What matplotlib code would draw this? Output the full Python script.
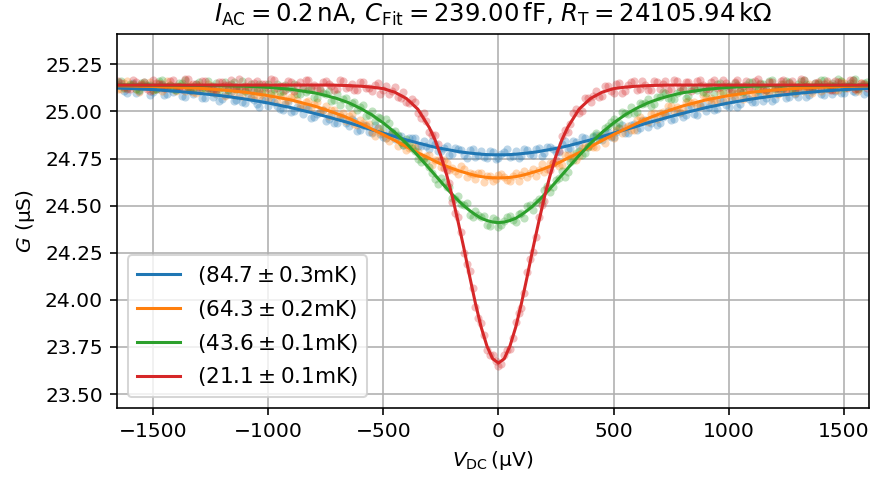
import numpy as np
import matplotlib
matplotlib.use("Agg")
import matplotlib.pyplot as plt

# ---- data ----
# two bias sweeps, interleaved in V_DC (µV)
sweep1_x = np.arange(-1650, 1601, 25)
sweep2_x = np.arange(-1637.5, 1600, 25)

blue_pts1 = [25.141, 25.108, 25.135, 25.097, 25.128, 25.142, 25.104, 25.121, 25.089, 25.126,
             25.113, 25.081, 25.118, 25.095, 25.110, 25.072, 25.101, 25.094, 25.066, 25.093,
             25.058, 25.084, 25.047, 25.072, 25.040, 25.063, 25.028, 25.052, 25.011, 25.040,
             24.998, 25.026, 24.985, 25.012, 24.968, 24.995, 24.951, 24.980, 24.939, 24.967,
             24.921, 24.947, 24.903, 24.925, 24.884, 24.910, 24.866, 24.893, 24.852, 24.871,
             24.830, 24.858, 24.815, 24.842, 24.801, 24.826, 24.788, 24.815, 24.774, 24.801,
             24.769, 24.794, 24.758, 24.789, 24.755, 24.784,
             24.752,
             24.787, 24.760, 24.792, 24.761, 24.797, 24.768, 24.804, 24.779, 24.812, 24.786,
             24.828, 24.799, 24.843, 24.814, 24.857, 24.831, 24.874, 24.848, 24.893, 24.864,
             24.911, 24.886, 24.929, 24.900, 24.948, 24.919, 24.966, 24.937, 24.984, 24.955,
             24.999, 24.971, 25.016, 24.987, 25.030, 25.001, 25.045, 25.014, 25.057, 25.026,
             25.068, 25.037, 25.079, 25.048, 25.088, 25.057, 25.097, 25.065, 25.104, 25.071,
             25.110, 25.079, 25.116, 25.085, 25.121, 25.090, 25.127, 25.094, 25.131, 25.098,
             25.136, 25.101, 25.139, 25.105]

blue_pts2 = [25.135, 25.097, 25.152, 25.111, 25.137, 25.086, 25.119, 25.140, 25.093, 25.105,
             25.127, 25.075, 25.109, 25.112, 25.073, 25.124, 25.076, 25.058, 25.087, 25.101,
             25.063, 25.049, 25.092, 25.059, 25.022, 25.061, 25.060, 25.030, 25.006, 25.049,
             25.001, 25.017, 25.022, 24.965, 24.989, 25.008, 24.959, 24.941, 24.969, 24.940,
             24.960, 24.898, 24.927, 24.891, 24.926, 24.882, 24.857, 24.891, 24.867, 24.823,
             24.858, 24.860, 24.815, 24.819, 24.845, 24.789, 24.808, 24.770, 24.806, 24.795,
             24.753, 24.803, 24.769, 24.759, 24.791, 24.748,
             24.772, 24.799, 24.762, 24.755, 24.801, 24.775, 24.798, 24.763, 24.813, 24.800,
             24.785, 24.843, 24.807, 24.836, 24.862, 24.816, 24.864, 24.854, 24.891, 24.863,
             24.892, 24.926, 24.883, 24.931, 24.914, 24.957, 24.941, 24.926, 24.970, 25.001,
             24.959, 24.992, 24.981, 25.028, 24.979, 25.033, 25.024, 25.009, 25.060, 25.033,
             25.059, 25.025, 25.077, 25.067, 25.052, 25.098, 25.070, 25.058, 25.098, 25.118,
             25.079, 25.090, 25.118, 25.075, 25.111, 25.121, 25.088, 25.138, 25.111, 25.100,
             25.139, 25.108, 25.124, 25.094]

orange_pts1 = [25.121, 25.152, 25.140, 25.118, 25.147, 25.129, 25.112, 25.150, 25.124, 25.138,
               25.109, 25.142, 25.131, 25.104, 25.139, 25.117, 25.125, 25.098, 25.130, 25.115,
               25.089, 25.121, 25.110, 25.081, 25.109, 25.094, 25.066, 25.097, 25.080, 25.049,
               25.077, 25.061, 25.026, 25.055, 25.038, 24.999, 25.027, 25.006, 24.968, 24.994,
               24.975, 24.931, 24.955, 24.930, 24.889, 24.911, 24.882, 24.843, 24.864, 24.836,
               24.795, 24.815, 24.787, 24.748, 24.769, 24.741, 24.703, 24.727, 24.702, 24.668,
               24.695, 24.671, 24.642, 24.671, 24.655, 24.630,
               24.664,
               24.651, 24.633, 24.672, 24.664, 24.650, 24.694, 24.690, 24.679, 24.727, 24.725,
               24.717, 24.770, 24.769, 24.763, 24.815, 24.817, 24.811, 24.864, 24.867, 24.858,
               24.910, 24.911, 24.903, 24.955, 24.953, 24.946, 24.994, 24.990, 24.980, 25.027,
               25.022, 25.011, 25.055, 25.049, 25.035, 25.079, 25.070, 25.055, 25.097, 25.089,
               25.071, 25.111, 25.101, 25.084, 25.123, 25.112, 25.094, 25.132, 25.119, 25.101,
               25.139, 25.126, 25.107, 25.145, 25.131, 25.111, 25.149, 25.134, 25.115, 25.151,
               25.137, 25.118, 25.153, 25.139]

orange_pts2 = [25.118, 25.161, 25.138, 25.105, 25.148, 25.154, 25.121, 25.107, 25.160, 25.124,
               25.137, 25.106, 25.142, 25.096, 25.123, 25.145, 25.103, 25.123, 25.081, 25.128,
               25.118, 25.081, 25.128, 25.086, 25.075, 25.109, 25.087, 25.050, 25.085, 25.061,
               25.088, 25.030, 25.051, 25.020, 25.048, 25.007, 24.975, 25.010, 24.983, 24.949,
               24.984, 24.928, 24.940, 24.934, 24.869, 24.889, 24.859, 24.883, 24.815, 24.834,
               24.804, 24.811, 24.756, 24.765, 24.718, 24.744, 24.741, 24.691, 24.685, 24.711,
               24.652, 24.668, 24.675, 24.623, 24.658, 24.639,
               24.668, 24.635, 24.658, 24.630, 24.683, 24.674, 24.659, 24.719, 24.694, 24.728,
               24.710, 24.768, 24.754, 24.743, 24.805, 24.813, 24.809, 24.869, 24.830, 24.870,
               24.904, 24.883, 24.924, 24.903, 24.970, 24.950, 24.984, 24.960, 24.995, 25.027,
               25.003, 24.996, 25.051, 25.046, 25.030, 25.086, 25.062, 25.055, 25.098, 25.056,
               25.098, 25.098, 25.065, 25.117, 25.097, 25.132, 25.096, 25.121, 25.095, 25.147,
               25.112, 25.099, 25.138, 25.129, 25.099, 25.149, 25.119, 25.141, 25.114, 25.160,
               25.130, 25.153, 25.110, 25.141]

green_pts1 = [25.158, 25.126, 25.147, 25.119, 25.152, 25.133, 25.114, 25.161, 25.129, 25.141,
              25.112, 25.150, 25.131, 25.121, 25.156, 25.127, 25.110, 25.149, 25.130, 25.116,
              25.158, 25.124, 25.109, 25.147, 25.125, 25.104, 25.146, 25.118, 25.101, 25.139,
              25.122, 25.090, 25.131, 25.112, 25.079, 25.114, 25.094, 25.055, 25.090, 25.066,
              25.027, 25.051, 25.026, 24.978, 25.004, 24.970, 24.917, 24.936, 24.897, 24.840,
              24.852, 24.806, 24.745, 24.754, 24.704, 24.641, 24.649, 24.598, 24.538, 24.550,
              24.505, 24.453, 24.473, 24.440, 24.399, 24.434,
              24.385,
              24.421, 24.443, 24.412, 24.460, 24.496, 24.478, 24.536, 24.581, 24.571, 24.635,
              24.684, 24.676, 24.740, 24.788, 24.778, 24.839, 24.883, 24.868, 24.923, 24.961,
              24.940, 24.990, 25.022, 24.996, 25.040, 25.068, 25.037, 25.076, 25.099, 25.064,
              25.100, 25.121, 25.083, 25.117, 25.135, 25.096, 25.128, 25.145, 25.105, 25.136,
              25.152, 25.110, 25.141, 25.156, 25.114, 25.144, 25.160, 25.117, 25.146, 25.163,
              25.120, 25.148, 25.166, 25.122, 25.150, 25.168, 25.124, 25.151, 25.170, 25.126,
              25.153, 25.171, 25.128, 25.155]

green_pts2 = [25.164, 25.127, 25.147, 25.112, 25.157, 25.141, 25.118, 25.169, 25.130, 25.121,
              25.151, 25.165, 25.114, 25.143, 25.124, 25.159, 25.134, 25.107, 25.155, 25.146,
              25.119, 25.161, 25.126, 25.110, 25.144, 25.132, 25.100, 25.147, 25.110, 25.126,
              25.144, 25.092, 25.101, 25.117, 25.071, 25.099, 25.106, 25.060, 25.034, 25.072,
              25.043, 25.007, 25.036, 24.983, 24.948, 24.963, 24.958, 24.887, 24.876, 24.820,
              24.833, 24.791, 24.729, 24.738, 24.673, 24.616, 24.624, 24.597, 24.533, 24.511,
              24.513, 24.442, 24.448, 24.444, 24.393, 24.423,
              24.395, 24.442, 24.423, 24.455, 24.434, 24.506, 24.520, 24.524, 24.603, 24.598,
              24.646, 24.653, 24.732, 24.779, 24.769, 24.809, 24.869, 24.853, 24.911, 24.942,
              24.922, 24.997, 24.989, 24.991, 25.045, 25.044, 25.027, 25.075, 25.101, 25.072,
              25.068, 25.111, 25.070, 25.130, 25.114, 25.101, 25.137, 25.098, 25.151, 25.135,
              25.111, 25.141, 25.105, 25.155, 25.133, 25.149, 25.112, 25.167, 25.130, 25.125,
              25.156, 25.108, 25.163, 25.143, 25.123, 25.148, 25.167, 25.118, 25.140, 25.159,
              25.128, 25.166, 25.121, 25.153]

red_pts1 = [25.162, 25.131, 25.118, 25.155, 25.139, 25.121, 25.168, 25.143, 25.126, 25.159,
            25.134, 25.117, 25.171, 25.145, 25.128, 25.164, 25.137, 25.115, 25.158, 25.142,
            25.124, 25.173, 25.136, 25.119, 25.161, 25.147, 25.127, 25.166, 25.133, 25.116,
            25.157, 25.141, 25.122, 25.169, 25.138, 25.120, 25.160, 25.135, 25.118, 25.163,
            25.132, 25.114, 25.158, 25.125, 25.109, 25.150, 25.113, 25.094, 25.128, 25.070,
            25.051, 25.068, 24.990, 24.991, 24.890, 24.874, 24.741, 24.690, 24.522, 24.440,
            24.250, 24.151, 23.960, 23.879, 23.735, 23.706,
            23.648,
            23.709, 23.738, 23.880, 23.959, 24.150, 24.252, 24.438, 24.525, 24.689, 24.743,
            24.872, 24.893, 24.994, 24.990, 25.069, 25.048, 25.111, 25.080, 25.137, 25.100,
            25.150, 25.107, 25.156, 25.113, 25.160, 25.116, 25.162, 25.118, 25.163, 25.121,
            25.160, 25.117, 25.158, 25.124, 25.165, 25.119, 25.154, 25.127, 25.168, 25.122,
            25.157, 25.115, 25.162, 25.129, 25.170, 25.118, 25.155, 25.126, 25.164, 25.113,
            25.159, 25.131, 25.167, 25.120, 25.152, 25.128, 25.161, 25.116, 25.156, 25.133,
            25.166, 25.121, 25.150, 25.125]

red_pts2 = [25.149, 25.118, 25.168, 25.135, 25.157, 25.111, 25.153, 25.143, 25.122, 25.165,
            25.129, 25.171, 25.116, 25.146, 25.160, 25.126, 25.113, 25.156, 25.141, 25.169,
            25.131, 25.120, 25.163, 25.151, 25.114, 25.147, 25.170, 25.124, 25.137, 25.161,
            25.110, 25.154, 25.166, 25.132, 25.121, 25.158, 25.144, 25.115, 25.166, 25.126,
            25.147, 25.114, 25.157, 25.125, 25.142, 25.095, 25.136, 25.109, 25.078, 25.105,
            25.044, 25.051, 24.967, 24.950, 24.873, 24.828, 24.701, 24.619, 24.463, 24.362,
            24.191, 24.063, 23.902, 23.811, 23.706, 23.676,
            23.660, 23.732, 23.795, 23.928, 24.036, 24.217, 24.334, 24.503, 24.593, 24.725,
            24.788, 24.899, 24.934, 25.015, 25.004, 25.070, 25.081, 25.077, 25.134, 25.111,
            25.145, 25.098, 25.142, 25.163, 25.120, 25.141, 25.115, 25.158, 25.148, 25.113,
            25.165, 25.128, 25.155, 25.110, 25.160, 25.141, 25.119, 25.168, 25.131, 25.153,
            25.116, 25.169, 25.136, 25.123, 25.163, 25.146, 25.112, 25.156, 25.127, 25.166,
            25.150, 25.118, 25.171, 25.135, 25.121, 25.157, 25.143, 25.114, 25.161, 25.152,
            25.125, 25.167, 25.120, 25.148]

fit_x = [-1650, -1600, -1500, -1400, -1300, -1200, -1100, -1000, -900, -800,
         -750, -700, -650, -600, -550, -500, -450, -400, -350, -300,
         -275, -250, -225, -200, -175, -150, -125, -100, -75, -50, -25,
         0,
         25, 50, 75, 100, 125, 150, 175, 200, 225, 250, 275,
         300, 350, 400, 450, 500, 550, 600, 650, 700, 750,
         800, 900, 1000, 1100, 1200, 1300, 1400, 1500, 1600, 1650]

blue_fit = [25.124, 25.122, 25.116, 25.107, 25.096, 25.083, 25.066, 25.045, 25.020, 24.990,
            24.974, 24.957, 24.940, 24.921, 24.903, 24.885, 24.867, 24.849, 24.833, 24.817,
            24.810, 24.804, 24.798, 24.793, 24.787, 24.783, 24.779, 24.776, 24.773, 24.771, 24.770,
            24.770,
            24.770, 24.771, 24.773, 24.776, 24.779, 24.783, 24.787, 24.793, 24.798, 24.804, 24.810,
            24.817, 24.833, 24.849, 24.867, 24.885, 24.903, 24.921, 24.940, 24.957, 24.974,
            24.990, 25.020, 25.045, 25.066, 25.083, 25.096, 25.107, 25.116, 25.122, 25.124]

orange_fit = [25.136, 25.135, 25.133, 25.129, 25.123, 25.114, 25.102, 25.084, 25.061, 25.029,
              25.009, 24.987, 24.964, 24.936, 24.907, 24.877, 24.846, 24.813, 24.781, 24.751,
              24.736, 24.721, 24.709, 24.697, 24.686, 24.677, 24.668, 24.660, 24.654, 24.650, 24.648,
              24.647,
              24.648, 24.650, 24.654, 24.660, 24.668, 24.677, 24.686, 24.697, 24.709, 24.721, 24.736,
              24.751, 24.781, 24.813, 24.846, 24.877, 24.907, 24.936, 24.964, 24.987, 25.009,
              25.029, 25.061, 25.084, 25.102, 25.114, 25.123, 25.129, 25.133, 25.135, 25.136]

green_fit = [25.140, 25.140, 25.139, 25.139, 25.138, 25.137, 25.134, 25.128, 25.117, 25.099,
             25.085, 25.068, 25.046, 25.017, 24.982, 24.939, 24.889, 24.831, 24.766, 24.697,
             24.662, 24.627, 24.592, 24.559, 24.528, 24.499, 24.474, 24.452, 24.433, 24.421, 24.413,
             24.410,
             24.413, 24.421, 24.433, 24.452, 24.474, 24.499, 24.528, 24.559, 24.592, 24.627, 24.662,
             24.697, 24.766, 24.831, 24.889, 24.939, 24.982, 25.017, 25.046, 25.068, 25.085,
             25.099, 25.117, 25.128, 25.134, 25.137, 25.138, 25.139, 25.139, 25.140, 25.140]

red_fit = [25.140, 25.140, 25.140, 25.140, 25.140, 25.140, 25.140, 25.140, 25.140, 25.140,
           25.140, 25.139, 25.137, 25.134, 25.129, 25.121, 25.102, 25.069, 25.012, 24.914,
           24.848, 24.765, 24.664, 24.547, 24.414, 24.274, 24.125, 23.982, 23.855, 23.755, 23.687,
           23.665,
           23.687, 23.755, 23.855, 23.982, 24.125, 24.274, 24.414, 24.547, 24.664, 24.765, 24.848,
           24.914, 25.012, 25.069, 25.102, 25.121, 25.129, 25.134, 25.137, 25.139, 25.140,
           25.140, 25.140, 25.140, 25.140, 25.140, 25.140, 25.140, 25.140, 25.140, 25.140]

labels = [r"$(84.7 \pm 0.3\mathrm{mK})$", r"$(64.3 \pm 0.2\mathrm{mK})$",
          r"$(43.6 \pm 0.1\mathrm{mK})$", r"$(21.1 \pm 0.1\mathrm{mK})$"]
colors = ["#1f77b4", "#ff7f0e", "#2ca02c", "#d62728"]

title = (r"$I_\mathrm{AC} = 0.2\,\mathrm{nA}$, $C_\mathrm{Fit} = 239.00\,\mathrm{fF}$, "
         r"$R_\mathrm{T} = 24105.94\,\mathrm{k\Omega}$")

# ---- plot ----
DPI = 146
fig = plt.figure(figsize=(874 / DPI, 478 / DPI), dpi=DPI)
ax = fig.add_axes([0.1339, 0.1464, 0.9943 - 0.1339, 0.9289 - 0.1464])

pts1 = [blue_pts1, orange_pts1, green_pts1, red_pts1]
pts2 = [blue_pts2, orange_pts2, green_pts2, red_pts2]
fits = [blue_fit, orange_fit, green_fit, red_fit]
for p1, p2, f, lab, c in zip(pts1, pts2, fits, labels, colors):
    ax.scatter(sweep1_x, p1, s=16, color=c, alpha=0.3, linewidths=0)
    ax.scatter(sweep2_x, p2, s=16, color=c, alpha=0.3, linewidths=0)
    ax.plot(fit_x, f, color=c, lw=1.5, label=lab)

ax.set_xlim(-1656, 1609)
ax.set_ylim(23.426, 25.411)
ax.set_yticks([23.50, 23.75, 24.00, 24.25, 24.50, 24.75, 25.00, 25.25])
ax.grid(True)
ax.set_axisbelow(True)
ax.set_xlabel(r"$V_\mathrm{DC}\,(\mathrm{µV})$")
ax.set_ylabel(r"$G$ (µS)")
ax.set_title(title)
ax.legend(loc="lower left", fontsize=10.7)

fig.savefig("out.png", dpi=DPI)
